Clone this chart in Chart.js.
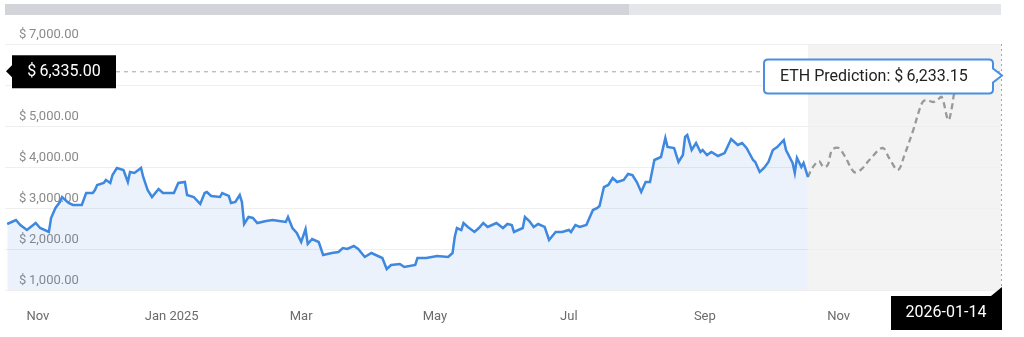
<!DOCTYPE html>
<html>
<head>
<meta charset="utf-8">
<script src="https://cdn.jsdelivr.net/npm/chart.js@4.4.1/dist/chart.umd.min.js"></script>
<style>
  html, body { margin: 0; padding: 0; background: #fff; }
  #wrap { width: 1024px; height: 337px; }
</style>
</head>
<body>
<div id="wrap"><canvas id="chart" width="1024" height="337"></canvas></div>
<script>
// days are counted from 2024-11-01
const actualDays = [-14, -10, -8, -5, -1, 1, 5, 6, 8, 10, 11, 14, 16, 20, 22, 25, 26, 27, 30, 31,
  33, 34, 36, 39, 41, 42, 44, 47, 48, 50, 52, 55, 57, 62, 64, 67, 68, 71, 74, 76,
  77, 79, 83, 84, 87, 88, 90, 92, 93, 94, 96, 98, 100, 104, 107, 110, 113, 114, 116, 118,
  120, 122, 123, 125, 128, 130, 134, 137, 139, 141, 144, 146, 149, 152, 157, 159, 161, 165, 167, 172,
  173, 177, 182, 187, 189, 190, 191, 193, 194, 196, 199, 201, 203, 205, 209, 212, 214, 216, 217, 221,
  222, 224, 226, 228, 231, 233, 236, 239, 242, 243, 245, 247, 250, 253, 255, 256, 258, 260, 262, 264,
  267, 269, 271, 273, 275, 277, 279, 281, 284, 286, 287, 290, 292, 294, 295, 296, 298, 300, 302, 303,
  305, 307, 310, 313, 316, 319, 321, 323, 326, 327, 329, 331, 333, 335, 337, 340, 341, 344, 345, 346,
  348, 349, 351];
const actualPrices = [2610, 2707, 2585, 2463, 2634, 2512, 2415, 2756, 3000, 3146, 3268, 3122, 3073, 3073, 3366, 3366, 3439, 3561, 3610, 3683,
  3610, 3805, 3976, 3927, 3634, 3878, 3854, 3976, 3756, 3439, 3268, 3463, 3366, 3366, 3610, 3634, 3317, 3268, 3098, 3366,
  3390, 3293, 3268, 3366, 3293, 3122, 3146, 3317, 3146, 2610, 2780, 2756, 2634, 2683, 2707, 2683, 2659, 2780, 2512, 2390,
  2171, 2488, 2122, 2244, 2171, 1854, 1902, 1927, 2024, 2000, 2073, 2000, 1805, 1902, 1780, 1512, 1610, 1634, 1561, 1610,
  1780, 1780, 1829, 1805, 1902, 2293, 2512, 2463, 2634, 2537, 2415, 2512, 2634, 2537, 2634, 2512, 2610, 2585, 2415, 2512,
  2780, 2683, 2537, 2610, 2537, 2220, 2415, 2415, 2463, 2415, 2585, 2537, 2585, 2951, 3000, 3049, 3512, 3561, 3732, 3634,
  3683, 3829, 3805, 3634, 3390, 3634, 3634, 4171, 4244, 4707, 4488, 4463, 4122, 4293, 4732, 4780, 4415, 4585, 4366, 4415,
  4293, 4366, 4268, 4341, 4683, 4537, 4585, 4463, 4171, 4122, 3878, 3976, 4122, 4415, 4488, 4659, 4415, 4098, 3854, 4220,
  4000, 4098, 3756];

const forecastDays = [351, 353, 356, 358, 360, 362, 365, 368, 372, 375, 379, 385, 388, 392, 395, 399, 403, 405, 408, 410,
  412, 415, 417, 418, 425, 434, 439];
const forecastPrices = [3756, 3976, 4146, 4000, 4049, 4415, 4463, 4244, 3878, 3927, 4171, 4463, 4220, 3927, 4293, 4902, 5561, 5634, 5585, 5634,
  5707, 5146, 5561, 5805, 6000, 6122, 6233.15];

const tickDays = [0, 61, 120, 181, 242, 304, 365];
const tickLabels = ['Nov', 'Jan 2025', 'Mar', 'May', 'Jul', 'Sep', 'Nov'];
const priceTicks = [1000, 2000, 3000, 4000, 5000, 6000, 7000];

const crossPrice = 6335;
const crossDate = '2026-01-14';
const seriesName = 'ETH Prediction';

const FONT = 'Roboto, "Noto Sans", sans-serif';
const money = v => '$\u2009' + v.toLocaleString('en-US', {minimumFractionDigits: 2, maximumFractionDigits: 2});

const overlay = {
  id: 'overlay',
  beforeDraw(chart) {
    const { ctx, chartArea: a, scales: { x } } = chart;
    ctx.save();
    // scroll bar
    ctx.fillStyle = '#e5e6ea';
    ctx.fillRect(a.left, 4, a.right - a.left, 11);
    ctx.fillStyle = '#d3d4d9';
    ctx.fillRect(a.left, 4, 624, 11);
    // forecast zone
    const fx = x.getPixelForValue(forecastDays[0]);
    ctx.fillStyle = '#f3f3f3';
    ctx.fillRect(fx, a.top, a.right - fx, a.bottom - a.top);
    ctx.restore();
  },
  afterDraw(chart) {
    const { ctx, chartArea: a, scales: { x, y } } = chart;
    const last = forecastPrices.length - 1;
    const ex = x.getPixelForValue(forecastDays[last]);
    const hy = y.getPixelForValue(crossPrice);
    const ty = y.getPixelForValue(forecastPrices[last]);
    ctx.save();

    // crosshair
    ctx.strokeStyle = '#a6a6a6';
    ctx.lineWidth = 1;
    ctx.setLineDash([4, 4]);
    ctx.beginPath(); ctx.moveTo(116, hy + 0.5); ctx.lineTo(ex, hy + 0.5); ctx.stroke();
    ctx.setLineDash([2, 3]);
    ctx.beginPath(); ctx.moveTo(ex + 0.5, a.top); ctx.lineTo(ex + 0.5, a.bottom); ctx.stroke();
    ctx.setLineDash([]);

    // price badge on the left
    ctx.fillStyle = '#000';
    ctx.fillRect(12, hy - 16, 104, 33);
    ctx.beginPath(); ctx.moveTo(6, hy); ctx.lineTo(12, hy - 6); ctx.lineTo(12, hy + 6); ctx.fill();
    ctx.fillStyle = '#fff';
    ctx.font = '16px ' + FONT;
    ctx.textAlign = 'center';
    ctx.textBaseline = 'middle';
    ctx.fillText(money(crossPrice), 64, hy + 1);

    // date badge under the axis
    ctx.fillStyle = '#000';
    ctx.fillRect(891, a.bottom + 6, ex - 890, 34);
    ctx.beginPath(); ctx.moveTo(991, a.bottom + 6); ctx.lineTo(ex + 1, a.bottom - 3); ctx.lineTo(ex + 1, a.bottom + 6); ctx.fill();
    ctx.fillStyle = '#fff';
    ctx.fillText(crossDate, 946, a.bottom + 23);

    // tooltip
    const l = 764, r = 993, t = ty - 16, b = ty + 18, rad = 4;
    ctx.beginPath();
    ctx.moveTo(l + rad, t);
    ctx.lineTo(r - rad, t);
    ctx.quadraticCurveTo(r, t, r, t + rad);
    ctx.lineTo(r, ty - 7);
    ctx.lineTo(ex + 1, ty);
    ctx.lineTo(r, ty + 7);
    ctx.lineTo(r, b - rad);
    ctx.quadraticCurveTo(r, b, r - rad, b);
    ctx.lineTo(l + rad, b);
    ctx.quadraticCurveTo(l, b, l, b - rad);
    ctx.lineTo(l, t + rad);
    ctx.quadraticCurveTo(l, t, l + rad, t);
    ctx.closePath();
    ctx.fillStyle = '#fff';
    ctx.fill();
    ctx.strokeStyle = '#4a8fe2';
    ctx.lineWidth = 2;
    ctx.stroke();
    ctx.fillStyle = '#222';
    ctx.textAlign = 'left';
    ctx.fillText(seriesName + ': ' + money(forecastPrices[last]), 780, ty + 2);
    ctx.restore();
  }
};

new Chart(document.getElementById('chart'), {
  type: 'line',
  data: {
    datasets: [{
      label: 'ETH',
      data: actualDays.map((d, i) => ({ x: d, y: actualPrices[i] })),
      borderColor: '#3f88df',
      borderWidth: 2.5,
      backgroundColor: 'rgba(70, 130, 230, 0.1)',
      fill: 'start',
      pointRadius: 0,
      tension: 0
    }, {
      label: seriesName,
      data: forecastDays.map((d, i) => ({ x: d, y: forecastPrices[i] })),
      borderColor: '#999999',
      borderWidth: 2.3,
      borderDash: [6, 4],
      fill: false,
      pointRadius: 0,
      tension: 0.35
    }]
  },
  options: {
    responsive: false,
    animation: false,
    layout: { padding: { left: 5, right: 23, top: 44, bottom: 0 } },
    plugins: { legend: { display: false }, tooltip: { enabled: false } },
    scales: {
      x: {
        type: 'linear',
        min: -15,
        max: 439,
        grid: { display: false },
        border: { display: false },
        afterFit: s => { s.height = 47; },
        afterBuildTicks: s => { s.ticks = tickDays.map(v => ({ value: v })); },
        ticks: {
          autoSkip: false,
          maxRotation: 0,
          padding: 11,
          color: '#6b6b6b',
          font: { family: FONT, size: 13 },
          callback: v => tickLabels[tickDays.indexOf(v)]
        }
      },
      y: {
        min: priceTicks[0],
        max: priceTicks[priceTicks.length - 1],
        grid: { color: '#efefef', drawTicks: false },
        border: { display: false },
        afterFit: s => { s.width = 0; },
        afterBuildTicks: s => { s.ticks = priceTicks.map(v => ({ value: v })); },
        ticks: {
          mirror: true,
          padding: 14,
          labelOffset: -9,
          color: '#8a8a8a',
          font: { family: FONT, size: 13 },
          callback: v => money(v)
        }
      }
    }
  },
  plugins: [overlay]
});
</script>
</body>
</html>
